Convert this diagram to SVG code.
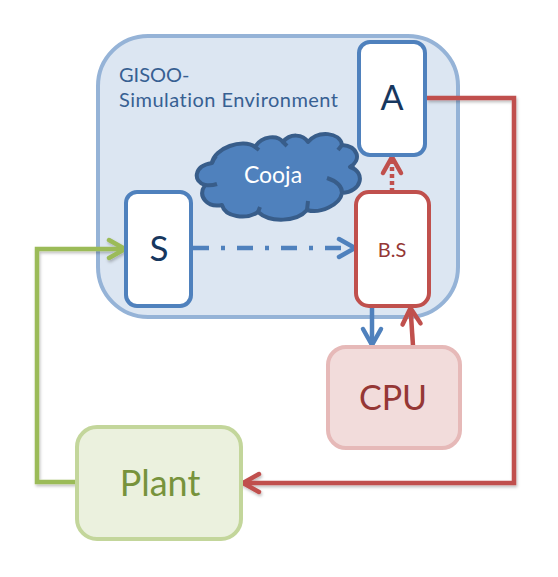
<svg xmlns="http://www.w3.org/2000/svg" width="558" height="577" viewBox="0 0 558 577">
<style>
text{font-family:Lato,"Liberation Sans",sans-serif;text-anchor:middle;font-variant-ligatures:none}
.box{stroke-width:4}
.blue{fill:#fff;stroke:#4f81bd}
.line{fill:none;stroke-width:4.500}
.mark{fill:none;stroke-width:4.500;stroke-linecap:round;stroke-linejoin:miter}
</style>
<defs>
<filter id="sh" x="-10%" y="-10%" width="120%" height="120%"><feDropShadow dx="1" dy="2" stdDeviation="1.5" flood-color="#000" flood-opacity="0.25"/></filter>
<marker id="mb" markerUnits="userSpaceOnUse" markerWidth="30" markerHeight="30" viewBox="-24 -15 30 30" refX="-2" refY="0" orient="auto"><path class="mark" stroke="#4f81bd" d="M-18-9L-2 0L-18 9"/></marker>
<marker id="mr" markerUnits="userSpaceOnUse" markerWidth="30" markerHeight="30" viewBox="-24 -15 30 30" refX="-2" refY="0" orient="auto"><path class="mark" stroke="#c0504d" d="M-18-9L-2 0L-18 9"/></marker>
<marker id="mg" markerUnits="userSpaceOnUse" markerWidth="30" markerHeight="30" viewBox="-24 -15 30 30" refX="-2" refY="0" orient="auto"><path class="mark" stroke="#9bbb59" d="M-18-9L-2 0L-18 9"/></marker>
</defs>
<g id="environment">
<rect x="98" y="36" width="360" height="281" rx="50" fill="#dce6f2" stroke="#95b3d7" stroke-width="4"/>
<text x="119" y="82" font-size="20" fill="#376092" style="text-anchor:start">GISOO-</text>
<text x="119" y="107" font-size="20" fill="#376092" style="text-anchor:start" textLength="219">Simulation Environment</text>
</g>
<g id="cooja">
<path d="M212 163C214 148 243 138 255 147C262 135 278 135 283 142C290 133 303 134 308 142C318 130 340 132 342 145C358 146 362 160 350 167C366 172 362 192 342 193C340 205 320 214 307 210C297 222 270 223 258 212C246 220 225 217 222 205C208 208 197 197 205 185C193 182 193 166 212 163Z" fill="#4f81bd" stroke="#385d8a" stroke-width="4" stroke-linejoin="round"/>
<path d="M205 185Q211 186 217 184M212 163Q213 160 216 156M255 147L259 150M283 142L287 146M342 145L338 150M350 167L354 165M342 193Q342 183 327 178M307 210L308 201M258 212L260 207" fill="none" stroke="#385d8a" stroke-width="4"/>
<text x="273" y="183" font-size="23" fill="#fff">Cooja</text>
</g>
<g id="connectors">
<path class="line" stroke="#9bbb59" filter="url(#sh)" marker-end="url(#mg)" d="M77 482H37V249H125"/>
<path class="line" stroke="#c0504d" filter="url(#sh)" marker-end="url(#mr)" d="M427 98H514V483H243"/>
<path class="line" stroke="#4f81bd" stroke-dasharray="16 12 4 12" marker-end="url(#mb)" d="M193 248H355"/>
<path class="line" stroke="#c0504d" stroke-dasharray="4 3" marker-end="url(#mr)" d="M392 192V157"/>
<path class="line" stroke="#4f81bd" marker-end="url(#mb)" d="M372 306V345"/>
<path class="line" stroke="#c0504d" marker-end="url(#mr)" d="M413 346L410.500 308"/>
</g>
<g id="S">
<rect class="box blue" x="126" y="192" width="65" height="114" rx="11"/>
<text x="159" y="261" font-size="35" fill="#17375e">S</text>
</g>
<g id="A">
<rect class="box blue" x="359" y="42" width="66" height="113" rx="11"/>
<text x="392" y="110" font-size="34" fill="#17375e">A</text>
</g>
<g id="BS">
<rect class="box" x="356" y="192" width="73" height="114" rx="13" fill="#fff" stroke="#c0504d"/>
<text x="392" y="257" font-size="20" fill="#953735">B.S</text>
</g>
<g id="CPU">
<rect class="box" x="328" y="347" width="132" height="101" rx="18" fill="#f2dcdb" stroke="#e6b9b8"/>
<text x="393" y="410" font-size="34" fill="#953735">CPU</text>
</g>
<g id="Plant">
<rect class="box" x="77" y="427" width="164" height="112" rx="20" fill="#ebf1de" stroke="#c3d69b"/>
<text x="160" y="496" font-size="36" fill="#77933c">Plant</text>
</g>
</svg>
